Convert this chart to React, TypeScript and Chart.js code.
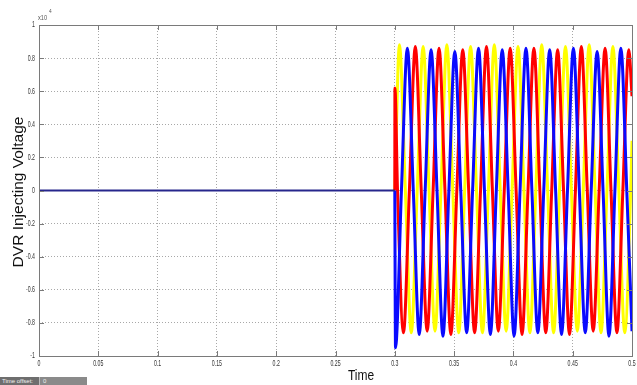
import React, { useEffect, useRef } from "react";
import { Chart, registerables } from "chart.js";

Chart.register(...registerables);

// Baseline (all phases zero before the DVR starts injecting)
const baseTimes = [0, 0.3];
const baseValues = [0, 0];

// Phase "blue" key points (troughs, zero crossings, peaks) in units of 1e4 V
const blueTimes = [0.3, 0.3006, 0.3056, 0.3106, 0.3156, 0.3206, 0.3256, 0.3306, 0.3356, 0.3406, 0.3456, 0.3506, 0.3556, 0.3606, 0.3656, 0.3706, 0.3756, 0.3806, 0.3856, 0.3906, 0.3956, 0.4006, 0.4056, 0.4106, 0.4156, 0.4206, 0.4256, 0.4306, 0.4356, 0.4406, 0.4456, 0.4506, 0.4556, 0.4606, 0.4656, 0.4706, 0.4756, 0.4806, 0.4856, 0.4906, 0.4956, 0.5];
const blueValues = [0, -0.95, 0, 0.86, 0, -0.87, 0, 0.85, 0, -0.88, 0, 0.84, 0, -0.86, 0, 0.86, 0, -0.87, 0, 0.85, 0, -0.88, 0, 0.86, 0, -0.86, 0, 0.85, 0, -0.87, 0, 0.86, 0, -0.86, 0, 0.84, 0, -0.88, 0, 0.86, 0, -0.85];

// Phase "red"
const redTimes = [0.3, 0.3001, 0.3023, 0.3073, 0.3123, 0.3173, 0.3223, 0.3273, 0.3323, 0.3373, 0.3423, 0.3473, 0.3523, 0.3573, 0.3623, 0.3673, 0.3723, 0.3773, 0.3823, 0.3873, 0.3923, 0.3973, 0.4023, 0.4073, 0.4123, 0.4173, 0.4223, 0.4273, 0.4323, 0.4373, 0.4423, 0.4473, 0.4523, 0.4573, 0.4623, 0.4673, 0.4723, 0.4773, 0.4823, 0.4873, 0.4923, 0.4973, 0.5];
const redValues = [0, 0.62, 0, -0.86, 0, 0.87, 0, -0.85, 0, 0.86, 0, -0.87, 0, 0.85, 0, -0.86, 0, 0.87, 0, -0.85, 0, 0.86, 0, -0.87, 0, 0.86, 0, -0.86, 0, 0.85, 0, -0.87, 0, 0.87, 0, -0.85, 0, 0.86, 0, -0.86, 0, 0.85, 0.57];

// Phase "yellow"
const yellowTimes = [0.3, 0.3039, 0.3089, 0.3139, 0.3189, 0.3239, 0.3289, 0.3339, 0.3389, 0.3439, 0.3489, 0.3539, 0.3589, 0.3639, 0.3689, 0.3739, 0.3789, 0.3839, 0.3889, 0.3939, 0.3989, 0.4039, 0.4089, 0.4139, 0.4189, 0.4239, 0.4289, 0.4339, 0.4389, 0.4439, 0.4489, 0.4539, 0.4589, 0.4639, 0.4689, 0.4739, 0.4789, 0.4839, 0.4889, 0.4939, 0.4989, 0.5];
const yellowValues = [0, 0.88, 0, -0.86, 0, 0.87, 0, -0.85, 0, 0.88, 0, -0.86, 0, 0.87, 0, -0.86, 0, 0.88, 0, -0.85, 0, 0.87, 0, -0.86, 0, 0.88, 0, -0.86, 0, 0.87, 0, -0.85, 0, 0.88, 0, -0.86, 0, 0.87, 0, -0.86, 0, 0.3];

const xMin = 0;
const xMax = 0.5;
const xStep = 0.05;
const yMin = -1;
const yMax = 1;
const yStep = 0.2;

const yTitle = "DVR Injecting Voltage";
const xTitle = "Time";
const exponentBase = "x10";
const exponentPower = "4";

const zip = (t: number[], v: number[]) => t.map((x, i) => ({ x, y: v[i] }));

const sansFont = "'Liberation Sans', Arial, sans-serif";

const fmt = (v: number) => String(Math.round(v * 100) / 100);

// draw horizontally condensed text (MATLAB-like narrow labels)
const narrowText = (ctx: any, text: string, x: number, y: number, align: string, sx: number) => {
  ctx.save();
  ctx.translate(x, y);
  ctx.scale(sx, 1);
  ctx.textAlign = align;
  ctx.fillText(text, 0, 0);
  ctx.restore();
};

const framePlugin = {
  id: "matlabFrame",
  afterDraw(chart: any) {
    const { ctx, chartArea: a, scales } = chart;
    ctx.save();
    // box
    ctx.strokeStyle = "#7a7a7a";
    ctx.lineWidth = 1;
    ctx.strokeRect(Math.round(a.left) + 0.5, Math.round(a.top) + 0.5, Math.round(a.right - a.left), Math.round(a.bottom - a.top));
    // inward ticks
    const tl = 5;
    ctx.beginPath();
    scales.x.ticks.forEach((t: any) => {
      const px = Math.round(scales.x.getPixelForValue(t.value)) + 0.5;
      ctx.moveTo(px, a.bottom);
      ctx.lineTo(px, a.bottom - tl);
      ctx.moveTo(px, a.top);
      ctx.lineTo(px, a.top + tl);
    });
    scales.y.ticks.forEach((t: any) => {
      const py = Math.round(scales.y.getPixelForValue(t.value)) + 0.5;
      ctx.moveTo(a.left, py);
      ctx.lineTo(a.left + tl, py);
      ctx.moveTo(a.right, py);
      ctx.lineTo(a.right - tl, py);
    });
    ctx.stroke();
    // tick labels
    ctx.fillStyle = "#333";
    ctx.font = "9px " + sansFont;
    ctx.textBaseline = "middle";
    scales.x.ticks.forEach((t: any) => {
      const px = scales.x.getPixelForValue(t.value);
      narrowText(ctx, fmt(t.value), px, a.bottom + 8, "center", 0.58);
    });
    scales.y.ticks.forEach((t: any) => {
      const py = scales.y.getPixelForValue(t.value);
      narrowText(ctx, fmt(t.value), a.left - 4, py, "right", 0.58);
    });
    // exponent
    ctx.fillStyle = "#555";
    ctx.textBaseline = "alphabetic";
    ctx.font = "7px " + sansFont;
    narrowText(ctx, exponentBase, a.left - 1, a.top - 5, "left", 0.8);
    ctx.font = "6px " + sansFont;
    narrowText(ctx, exponentPower, a.left + 10, a.top - 12, "left", 0.8);
    // axis titles
    ctx.fillStyle = "#111";
    ctx.textBaseline = "middle";
    ctx.font = "15px " + sansFont;
    narrowText(ctx, xTitle, 361, 376, "center", 0.8);
    ctx.save();
    ctx.translate(19, 192);
    ctx.rotate(-Math.PI / 2);
    ctx.font = "15.5px " + sansFont;
    ctx.textAlign = "center";
    ctx.fillText(yTitle, 0, 0);
    ctx.restore();
    ctx.restore();
  },
};

export default function App() {
  const ref = useRef<HTMLCanvasElement | null>(null);

  useEffect(() => {
    document.body.style.margin = "0";
    if (!ref.current) return;
    const common = {
      pointRadius: 0,
      fill: false,
      cubicInterpolationMode: "monotone" as const,
    };
    const buildTicks = (min: number, step: number) => (s: any) => {
      const arr = [];
      for (let i = 0; i <= 10; i++) arr.push({ value: Math.round((min + i * step) * 100) / 100 });
      s.ticks = arr;
    };
    const chart = new Chart(ref.current, {
      type: "line",
      data: {
        datasets: [
          { ...common, label: "base", data: zip(baseTimes, baseValues), borderColor: "#26268c", borderWidth: 2, order: 0 },
          { ...common, label: "blue", data: zip(blueTimes, blueValues), borderColor: "#0a0aff", borderWidth: 3, order: 1 },
          { ...common, label: "red", data: zip(redTimes, redValues), borderColor: "#ff0000", borderWidth: 3, order: 2 },
          { ...common, label: "yellow", data: zip(yellowTimes, yellowValues), borderColor: "#ffff00", borderWidth: 3, order: 3 },
        ],
      },
      options: {
        responsive: false,
        animation: false,
        events: [],
        layout: { padding: { top: 25, right: 5, left: 0, bottom: 0 } },
        plugins: { legend: { display: false }, tooltip: { enabled: false } },
        scales: {
          x: {
            type: "linear",
            min: xMin,
            max: xMax,
            afterFit: (s: any) => { s.height = 29; },
            afterBuildTicks: buildTicks(xMin, xStep),
            grid: { color: "#a8a8a8", lineWidth: 1, drawTicks: false },
            border: { display: false, dash: [1, 2] },
            ticks: { display: false, autoSkip: false },
          },
          y: {
            type: "linear",
            min: yMin,
            max: yMax,
            afterFit: (s: any) => { s.width = 39; },
            afterBuildTicks: buildTicks(yMin, yStep),
            grid: { color: "#a8a8a8", lineWidth: 1, drawTicks: false },
            border: { display: false, dash: [1, 2] },
            ticks: { display: false, autoSkip: false },
          },
        },
      },
      plugins: [framePlugin],
    });
    return () => chart.destroy();
  }, []);

  return (
    <div style={{ position: "relative", width: 637, height: 385, background: "#fff", overflow: "hidden" }}>
      <canvas ref={ref} width={637} height={385} style={{ display: "block" }} />
      <div
        style={{
          position: "absolute",
          left: 0,
          top: 377,
          width: 87,
          height: 8,
          background: "#8a8a8a",
          display: "flex",
          alignItems: "center",
          fontFamily: sansFont,
          fontSize: 6,
          color: "#f0f0f0",
          lineHeight: "8px",
        }}
      >
        <span style={{ width: 39, paddingLeft: 2, boxSizing: "border-box", background: "#6e6e6e", height: 8 }}>Time offset:</span>
        <span style={{ paddingLeft: 3, borderLeft: "1px solid #bbb", height: 8 }}>0</span>
      </div>
    </div>
  );
}
